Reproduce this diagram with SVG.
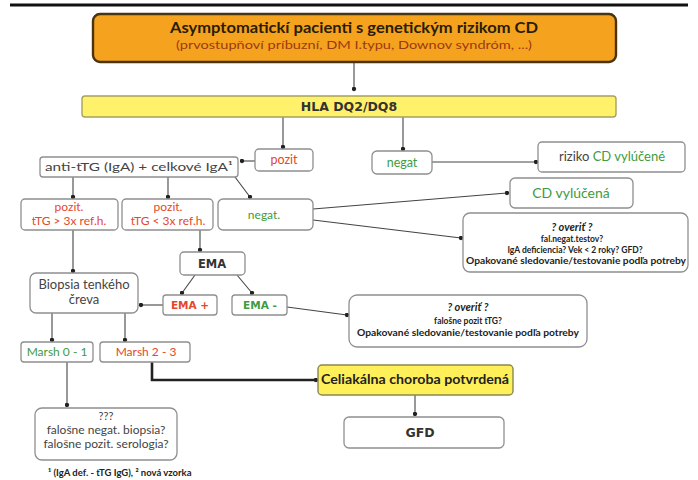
<svg xmlns="http://www.w3.org/2000/svg" width="698" height="480" viewBox="0 0 698 480">
<defs>
<style>
.bg{fill:#fff}
.box{fill:#fff;stroke:#8f8f8f;stroke-width:1.3}
.t{font-family:Lato,"Liberation Sans",sans-serif;text-anchor:middle;fill:#444}
.b{font-family:"DejaVu Sans","Liberation Sans",sans-serif;font-weight:bold;text-anchor:middle;fill:#333}
.red{fill:#E4482A}
.grn{fill:#3E9B3E}
.dk{fill:#222}
.ln{fill:none;stroke:#444;stroke-width:1.1;marker-end:url(#dot)}
.thick{fill:none;stroke:#222;stroke-width:2.6;marker-end:url(#dot)}
</style>
<marker id="dot" viewBox="0 0 6 6" refX="3" refY="3" markerWidth="5" markerHeight="5" markerUnits="userSpaceOnUse"><circle cx="3" cy="3" r="2.6" fill="#222"/></marker>
</defs>
<rect class="bg" x="0" y="0" width="698" height="480"/>
<line x1="10" y1="5" x2="688" y2="5" stroke="#111" stroke-width="3"/>

<g id="connectors">
<path class="ln" d="M354,62 V89"/>
<path class="ln" d="M283,117 V147"/>
<path class="ln" d="M403,117 V149"/>
<path class="ln" d="M255,161 H242"/>
<path class="ln" d="M432,162 H536"/>
<path class="ln" d="M73,177 V197"/>
<path class="ln" d="M168,177 V197"/>
<path class="ln" d="M235,177 L250,197"/>
<path class="ln" d="M313,209 L507,193"/>
<path class="ln" d="M313,220 L461,238"/>
<path class="ln" d="M73,230 V271"/>
<path class="ln" d="M200,230 V250"/>
<path class="ln" d="M195,275 L182,293"/>
<path class="ln" d="M237,275 L252,293"/>
<path class="ln" d="M163,305 H141"/>
<path class="ln" d="M287,307 L347,315"/>
<path class="ln" d="M52,313 V340"/>
<path class="ln" d="M125,313 V340"/>
<path class="thick" d="M152,362 V380 H316"/>
<path class="ln" d="M67,362 V405"/>
<path class="ln" d="M415,395 V414"/>
</g>

<g id="n-start">
<rect x="93" y="14" width="523" height="48" rx="7" fill="#F5A21F" stroke="#4a3410" stroke-width="2.4"/>
<text class="t" x="354" y="33" font-size="14.5" font-weight="bold" style="fill:#2a1c05" textLength="368" lengthAdjust="spacingAndGlyphs">Asymptomatickí pacienti s genetickým rizikom CD</text>
<text class="t" x="354" y="49" font-size="11.5" style="fill:#9a3a10" textLength="356" lengthAdjust="spacingAndGlyphs">(prvostupňoví príbuzní, DM I.typu, Downov syndróm, ...)</text>
</g>

<g id="n-hla">
<rect x="82" y="96" width="534" height="21" rx="3" fill="#FFF26A" stroke="#a8a060" stroke-width="1.4"/>
<text class="b" x="349" y="111" font-size="12.5">HLA DQ2/DQ8</text>
</g>

<g id="n-pozit">
<rect class="box" x="255" y="149" width="58" height="22" rx="4"/>
<text class="t red" x="284" y="164" font-size="12.5">pozit</text>
</g>

<g id="n-negat-hla">
<rect class="box" x="372" y="151" width="60" height="23" rx="5"/>
<text class="t grn" x="402" y="167" font-size="12.5">negat</text>
</g>

<g id="n-riziko">
<rect class="box" x="538" y="142" width="147" height="30" rx="4"/>
<text class="t" x="612" y="161" font-size="13">riziko <tspan class="grn">CD vylúčené</tspan></text>
</g>

<g id="n-anti">
<rect class="box" x="40" y="157" width="198" height="20" rx="3"/>
<text class="t" x="139" y="171" font-size="12" textLength="188" lengthAdjust="spacingAndGlyphs">anti-tTG (IgA) + celkové IgA¹</text>
</g>

<g id="n-cdvyl">
<rect class="box" x="510" y="178" width="123" height="30" rx="5"/>
<text class="t grn" x="571" y="198" font-size="14">CD vylúčená</text>
</g>

<g id="n-pozit1">
<rect class="box" x="21" y="199" width="97" height="31" rx="4"/>
<text class="t red" x="69" y="211" font-size="12">pozit.</text>
<text class="t red" x="69" y="225" font-size="12">tTG &gt; 3x ref.h.</text>
</g>

<g id="n-pozit2">
<rect class="box" x="122" y="199" width="91" height="31" rx="4"/>
<text class="t red" x="168" y="211" font-size="12">pozit.</text>
<text class="t red" x="168" y="225" font-size="12">tTG &lt; 3x ref.h.</text>
</g>

<g id="n-negat2">
<rect class="box" x="218" y="199" width="95" height="31" rx="5"/>
<text class="t grn" x="264" y="219" font-size="12">negat.</text>
</g>

<g id="n-overit1">
<rect class="box" x="463" y="213" width="225" height="59" rx="7"/>
<text class="t dk" x="572" y="231" font-size="11" font-weight="bold" font-style="italic">? overiť ?</text>
<text class="t dk" x="572" y="242" font-size="8.5" font-weight="bold">fal.negat.testov?</text>
<text class="t dk" x="575" y="253" font-size="8.5" font-weight="bold">IgA deficiencia? Vek &lt; 2 roky? GFD?</text>
<text class="t dk" x="576" y="264" font-size="8.5" font-weight="bold" textLength="220" lengthAdjust="spacingAndGlyphs">Opakované sledovanie/testovanie podľa potreby</text>
</g>

<g id="n-ema">
<rect class="box" x="180" y="252" width="65" height="23" rx="4"/>
<text class="b" x="212" y="268" font-size="11.5">EMA</text>
</g>

<g id="n-biopsia">
<rect class="box" x="30" y="273" width="108" height="40" rx="6"/>
<text class="t" x="84" y="289" font-size="13">Biopsia tenkého</text>
<text class="t" x="84" y="304" font-size="13">čreva</text>
</g>

<g id="n-emaplus">
<rect class="box" x="163" y="295" width="54" height="20" rx="3"/>
<text class="b red" x="190" y="309" font-size="10.5">EMA +</text>
</g>

<g id="n-emaminus">
<rect class="box" x="232" y="295" width="55" height="20" rx="3"/>
<text class="b grn" x="260" y="309" font-size="10.5">EMA -</text>
</g>

<g id="n-overit2">
<rect class="box" x="349" y="295" width="238" height="52" rx="8"/>
<text class="t dk" x="468" y="311" font-size="11" font-weight="bold" font-style="italic">? overiť ?</text>
<text class="t dk" x="468" y="324" font-size="8.5" font-weight="bold">falošne pozit tTG?</text>
<text class="t dk" x="468" y="336" font-size="8.5" font-weight="bold" textLength="222" lengthAdjust="spacingAndGlyphs">Opakované sledovanie/testovanie podľa potreby</text>
</g>

<g id="n-marsh01">
<rect class="box" x="21" y="342" width="72" height="20" rx="3"/>
<text class="t grn" x="57" y="356" font-size="12">Marsh 0 - 1</text>
</g>

<g id="n-marsh23">
<rect class="box" x="100" y="342" width="90" height="20" rx="3"/>
<text class="t red" x="146" y="356" font-size="12">Marsh 2 - 3</text>
</g>

<g id="n-celiak">
<rect x="318" y="365" width="195" height="30" rx="4" fill="#FFF05A" stroke="#8a8650" stroke-width="1.4"/>
<text class="t dk" x="415" y="384" font-size="13" font-weight="bold" textLength="188" lengthAdjust="spacingAndGlyphs">Celiakálna choroba potvrdená</text>
</g>

<g id="n-gfd">
<rect class="box" x="344" y="417" width="160" height="31" rx="5"/>
<text class="b" x="420" y="437" font-size="12.5">GFD</text>
</g>

<g id="n-unknown">
<rect class="box" x="35" y="408" width="142" height="52" rx="7"/>
<text class="t" x="106" y="420" font-size="11">???</text>
<text class="t" x="106" y="434" font-size="12">falošne negat. biopsia?</text>
<text class="t" x="106" y="448" font-size="12">falošne pozit. serologia?</text>
</g>

<text class="t dk" x="48" y="476" font-size="9.5" font-weight="bold" style="text-anchor:start">¹ (IgA def. - tTG IgG), ² nová vzorka</text>
</svg>
